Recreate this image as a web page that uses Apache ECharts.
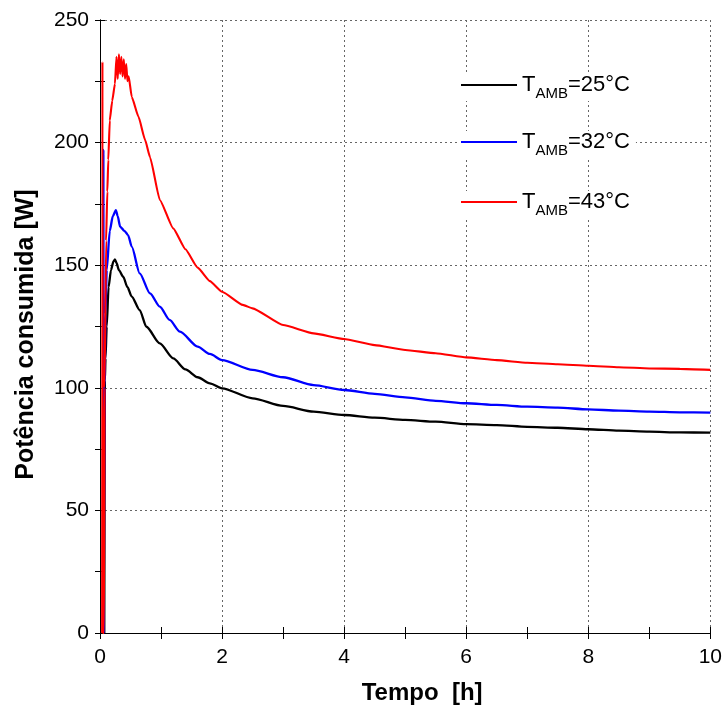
<!DOCTYPE html>
<html>
<head>
<meta charset="utf-8">
<script src="https://cdn.jsdelivr.net/npm/echarts@6/dist/echarts.min.js"></script>
<style>
html,body{margin:0;padding:0;background:#fff;}
#chart{width:725px;height:713px;}
</style>
</head>
<body>
<div id="chart"></div>
<script>
// ---- data ----
var xTicks = [0, 2, 4, 6, 8, 10];
var yTicks = [0, 50, 100, 150, 200, 250];
var seriesNames = ['T25', 'T32', 'T43'];
var legendLabels = ['=25°C', '=32°C', '=43°C'];

var t25 = [0.07, 0.075, 0.08, 0.09, 0.11, 0.14, 0.18, 0.22, 0.245, 0.27, 0.31, 0.38, 0.45, 0.52, 0.65, 0.76, 0.98, 1.2, 1.4, 1.6, 1.8, 2.0, 2.5, 3.0, 3.5, 4.0, 4.5, 5.0, 5.5, 6.0, 6.5, 7.0, 7.5, 8.0, 8.5, 9.0, 9.5, 10.0];
var p25 = [0, 0, 103, 112, 125, 141, 148, 151.5, 152.4, 151, 148, 145.3, 141, 137.2, 131.7, 124.9, 118.1, 112, 107.5, 104.3, 101.8, 99.8, 95.7, 92.6, 90.3, 88.9, 87.8, 86.9, 86.2, 85.2, 84.8, 84.1, 83.7, 83.1, 82.5, 82.1, 81.8, 81.7];

var t32 = [0.05, 0.055, 0.06, 0.068, 0.075, 0.09, 0.11, 0.16, 0.21, 0.26, 0.29, 0.33, 0.4, 0.46, 0.52, 0.65, 0.82, 0.98, 1.14, 1.31, 1.6, 1.8, 2.0, 2.5, 3.0, 3.5, 4.0, 4.5, 5.0, 5.5, 6.0, 6.5, 7.0, 7.5, 8.0, 8.5, 9.0, 9.5, 10.0];
var p32 = [0, 197, 0, 0, 100, 130, 148, 164, 170, 172.5, 170, 165.7, 164, 162.3, 157.6, 146.7, 138.5, 133.1, 127.7, 122.9, 116.8, 113.8, 111.3, 107.3, 104.3, 101.1, 99.1, 97.5, 96.1, 94.7, 93.7, 93, 92.3, 91.9, 91.2, 90.7, 90.3, 90, 89.9];

var t43 = [0.035, 0.04, 0.045, 0.065, 0.075, 0.1, 0.12, 0.136, 0.16, 0.2, 0.245, 0.27, 0.29, 0.31, 0.33, 0.35, 0.37, 0.39, 0.41, 0.43, 0.45, 0.47, 0.52, 0.63, 0.74, 0.82, 0.98, 1.2, 1.4, 1.6, 1.8, 2.0, 2.34, 2.5, 3.0, 3.5, 4.0, 4.5, 5.0, 5.5, 6.0, 6.5, 7.0, 7.5, 8.0, 8.5, 9.0, 9.5, 10.0];
var p43 = [0, 233, 0, 0, 100, 160, 180, 193, 209, 217, 224, 235, 226, 236, 228, 235, 227, 234, 226, 232, 225, 227, 218.7, 210.6, 201, 194, 176.6, 165, 156.5, 149, 143.5, 139.2, 133.8, 132.4, 125.6, 122.2, 119.9, 117.4, 115.4, 114.1, 112.4, 111.3, 110.2, 109.6, 109, 108.4, 107.9, 107.7, 107.3];

function pairs(t, p) { return t.map(function (v, i) { return [v, p[i]]; }); }

var FONT = '"Liberation Sans", Arial, sans-serif';
var colors = ['#000000', '#0000ff', '#ff0000'];

var chart = echarts.init(document.getElementById('chart'), null, { renderer: 'canvas' });

function makeLegend(i, top) {
  return {
    data: [{ name: seriesNames[i], icon: 'rect' }],
    left: 459,
    top: top,
    orient: 'vertical',
    backgroundColor: '#fff',
    padding: [0, 6, 0, 2],
    itemWidth: 56,
    itemHeight: 2,
    selectedMode: false,
    formatter: function () { return '{t|T}{s|AMB}{t|' + legendLabels[i] + '}'; },
    textStyle: {
      color: '#000',
      rich: {
        t: { fontSize: 22, fontFamily: FONT, color: '#000', lineHeight: 32 },
        s: { fontSize: 15, fontFamily: FONT, color: '#000', lineHeight: 14, verticalAlign: 'bottom' }
      }
    }
  };
}

var grid = { left: 100, right: 14, top: 20, bottom: 80 };

var option = {
  animation: false,
  backgroundColor: '#fff',
  grid: grid,
  legend: [makeLegend(0, 74), makeLegend(1, 131), makeLegend(2, 191)],
  xAxis: [{
    type: 'value', min: xTicks[0], max: xTicks[xTicks.length - 1], interval: 2,
    name: 'Tempo  [h]', nameLocation: 'middle', nameGap: 48,
    nameTextStyle: { fontFamily: FONT, fontSize: 24, fontWeight: 'bold', color: '#000', padding: [0, 0, 0, 34] },
    axisLine: { show: true, lineStyle: { color: '#000', width: 1 } },
    axisTick: { show: true, inside: true, length: 6, lineStyle: { color: '#000' } },
    minorTick: { show: true, splitNumber: 2, length: 6, lineStyle: { color: '#000' } },
    axisLabel: { fontFamily: FONT, fontSize: 21, color: '#000', margin: 14 },
    splitLine: { show: true, lineStyle: { color: '#666', type: [2, 3], width: 1 } }
  }, {
    type: 'value', position: 'top', min: xTicks[0], max: xTicks[xTicks.length - 1], interval: 2,
    axisLine: { show: true, lineStyle: { color: '#000', width: 1 } },
    axisTick: { show: true, inside: true, length: 6, lineStyle: { color: '#000' } },
    minorTick: { show: true, splitNumber: 2, length: 6, lineStyle: { color: '#000' } },
    axisLabel: { show: false }, splitLine: { show: false }
  }],
  yAxis: [{
    type: 'value', min: yTicks[0], max: yTicks[yTicks.length - 1], interval: 50,
    name: 'Potência consumida [W]', nameLocation: 'middle', nameGap: 61,
    nameTextStyle: { fontFamily: FONT, fontSize: 25, fontWeight: 'bold', color: '#000', padding: [0, 16, 0, 0] },
    axisLine: { show: true, lineStyle: { color: '#000', width: 1 } },
    axisTick: { show: true, inside: true, length: 5, lineStyle: { color: '#000' } },
    minorTick: { show: true, splitNumber: 2, length: 5, lineStyle: { color: '#000' } },
    axisLabel: { fontFamily: FONT, fontSize: 21, color: '#000', margin: 11 },
    splitLine: { show: true, lineStyle: { color: '#666', type: [2, 3], width: 1 } }
  }, {
    type: 'value', position: 'right', min: yTicks[0], max: yTicks[yTicks.length - 1], interval: 50,
    axisLine: { show: true, lineStyle: { color: '#000', width: 1 } },
    axisTick: { show: true, inside: true, length: 5, lineStyle: { color: '#000' } },
    minorTick: { show: true, splitNumber: 2, length: 5, lineStyle: { color: '#000' } },
    axisLabel: { show: false }, splitLine: { show: false }
  }],
  series: [
    { name: seriesNames[0], type: 'line', data: pairs(t25, p25), showSymbol: false, symbol: 'none', smooth: 0.25, smoothMonotone: 'x',
      lineStyle: { color: colors[0], width: 2.3 }, itemStyle: { color: colors[0] } },
    { name: seriesNames[1], type: 'line', data: pairs(t32, p32), showSymbol: false, symbol: 'none', smooth: 0.25, smoothMonotone: 'x',
      lineStyle: { color: colors[1], width: 2.3 }, itemStyle: { color: colors[1] } },
    { name: seriesNames[2], type: 'line', data: pairs(t43, p43), showSymbol: false, symbol: 'none', smooth: 0.15, smoothMonotone: 'x',
      lineStyle: { color: colors[2], width: 2.1 }, itemStyle: { color: colors[2] } }
  ]
};
chart.setOption(option);
</script>
</body>
</html>
